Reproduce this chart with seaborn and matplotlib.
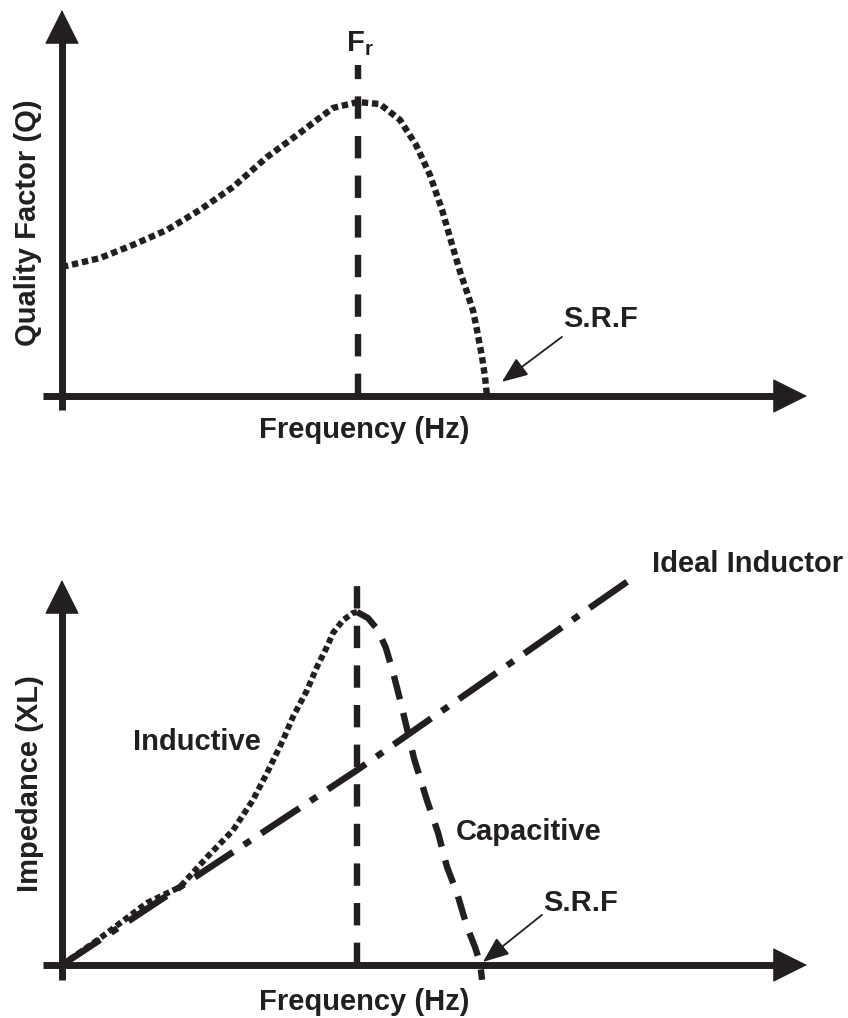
import numpy as np
import pandas as pd
import matplotlib
matplotlib.use("Agg")
import matplotlib.pyplot as plt
import seaborn as sns

# Q vs frequency (frequency normalised to Fr = 1, Q normalised to peak = 1)
q_freq = [0.0, 0.128, 0.240, 0.355, 0.466, 0.578, 0.693, 0.804, 0.861, 0.916, 1.0,
          1.074, 1.142, 1.196, 1.243, 1.284, 1.318, 1.345, 1.368, 1.389, 1.402,
          1.419, 1.429, 1.436]
q_vals = [0.439, 0.469, 0.514, 0.565, 0.633, 0.711, 0.813, 0.895, 0.939, 0.980, 1.0,
          0.993, 0.939, 0.854, 0.752, 0.633, 0.514, 0.422, 0.354, 0.289, 0.224,
          0.133, 0.065, 0.0]

# impedance vs frequency
ind_freq = [0.0, 0.129, 0.288, 0.400, 0.492, 0.580, 0.647, 0.695, 0.749, 0.783,
            0.831, 0.864, 0.898, 0.919, 0.953, 0.986, 1.0]
ind_vals = [0.0, 0.076, 0.176, 0.221, 0.306, 0.382, 0.467, 0.544, 0.637, 0.703,
            0.779, 0.844, 0.901, 0.941, 0.977, 0.997, 1.0]
cap_freq = [1.0, 1.037, 1.071, 1.098, 1.122, 1.146, 1.169, 1.193, 1.237, 1.275,
            1.305, 1.339, 1.373, 1.400, 1.417, 1.424]
cap_vals = [1.0, 0.983, 0.949, 0.898, 0.830, 0.751, 0.671, 0.586, 0.467, 0.374,
            0.278, 0.204, 0.108, 0.051, 0.006, -0.042]
ideal_freq = [0.0, 1.0, 1.949]
ideal_vals = [0.0, 0.552, 1.105]

fr = 1.0
FIG_W, FIG_H = 848, 1018
INK = "#231f20"

sns.set_style("white")
plt.rcParams["font.family"] = ["Liberation Sans", "DejaVu Sans"]
plt.rcParams["font.weight"] = "bold"
plt.rcParams["mathtext.fontset"] = "custom"
plt.rcParams["mathtext.bf"] = "Liberation Sans:bold"
plt.rcParams["mathtext.rm"] = "Liberation Sans:bold"

fig = plt.figure(figsize=(FIG_W / 100, FIG_H / 100), dpi=100)


def px_axes(x0, x1, y_top, y_bot):
    return fig.add_axes([x0 / FIG_W, 1 - y_bot / FIG_H, (x1 - x0) / FIG_W, (y_bot - y_top) / FIG_H])


def draw_axes_arrows(ax, xleft, ybelow, head_frac_x, head_frac_y):
    # shafts
    ax.plot([xleft, 1 - head_frac_x * 0.5], [0, 0], transform=ax.transAxes, color=INK,
            lw=5, solid_capstyle="butt", clip_on=False)
    ax.plot([0, 0], [ybelow, 1 - head_frac_y * 0.5], transform=ax.transAxes, color=INK,
            lw=5, solid_capstyle="butt", clip_on=False)
    # sharp heads
    head = dict(arrowstyle="-|>,head_length=1.0,head_width=0.5", mutation_scale=23,
                lw=0.8, color=INK, shrinkA=0, shrinkB=0)
    ax.annotate("", xy=(1, 0), xytext=(1 - head_frac_x * 1.5, 0), xycoords="axes fraction",
                arrowprops=head)
    ax.annotate("", xy=(0, 1), xytext=(0, 1 - head_frac_y * 1.5), xycoords="axes fraction",
                arrowprops=head)


def style_line(line, dashes, lw):
    line.set_dashes(dashes)
    line.set_linewidth(lw)
    line.set_dash_capstyle("butt")
    line.set_clip_on(False)


FS = 21

# ---------- top panel: quality factor ----------
ax1 = px_axes(62, 807, 10, 396)
ax1.set_xlim(0, 745 / 296)
ax1.set_ylim(0, 386 / 294)
ax1.set_axis_off()

top_df = pd.DataFrame({"freq": q_freq, "Q": q_vals})
sns.lineplot(data=top_df, x="freq", y="Q", ax=ax1, color=INK, sort=False, estimator=None)
style_line(ax1.lines[-1], (1.0, 0.6), 4.6)
sns.lineplot(x=[fr, fr], y=[0, 1.126], ax=ax1, color=INK, sort=False, estimator=None)
style_line(ax1.lines[-1], (3.5, 2.7), 4.6)
draw_axes_arrows(ax1, -0.025, -0.036, 32 / 745, 31 / 386)

ax1.text(fr + 0.007, 1.2, r"$\mathbf{F_r}$", fontsize=FS, ha="center", va="center", color=INK)
ax1.text(1.818, 0.262, "S.R.F", fontsize=FS, ha="center", va="center", color=INK)
ax1.annotate("", xy=(1.486, 0.048), xytext=(1.689, 0.201),
             arrowprops=dict(arrowstyle="-|>,head_length=0.8,head_width=0.32", mutation_scale=20,
                             lw=1.3, color=INK, shrinkA=0, shrinkB=0))

# ---------- bottom panel: impedance ----------
ax2 = px_axes(62, 807, 580, 965)
ax2.set_xlim(0, 745 / 295)
ax2.set_ylim(0, 385 / 353)
ax2.set_axis_off()

sns.lineplot(x=ideal_freq, y=ideal_vals, ax=ax2, color=INK, sort=False, estimator=None)
style_line(ax2.lines[-1], (7.0, 2.0, 1.2, 2.0), 4.7)
sns.lineplot(x=ind_freq, y=ind_vals, ax=ax2, color=INK, sort=False, estimator=None)
style_line(ax2.lines[-1], (1.0, 0.6), 4.3)
sns.lineplot(x=cap_freq, y=cap_vals, ax=ax2, color=INK, sort=False, estimator=None)
style_line(ax2.lines[-1], (3.8, 2.2), 4.6)
sns.lineplot(x=[fr, fr], y=[0, 1.113], ax=ax2, color=INK, sort=False, estimator=None)
style_line(ax2.lines[-1], (3.5, 2.7), 4.6)
draw_axes_arrows(ax2, -0.026, -0.039, 32 / 745, 31 / 385)

ax2.text(2.0, 1.136, "Ideal Inductor", fontsize=FS, ha="left", va="center", color=INK)
ax2.text(0.458, 0.632, "Inductive", fontsize=FS, ha="center", va="center", color=INK)
ax2.text(1.583, 0.377, "Capacitive", fontsize=FS, ha="center", va="center", color=INK)
ax2.text(1.759, 0.176, "S.R.F", fontsize=FS, ha="center", va="center", color=INK)
ax2.annotate("", xy=(1.427, 0.0085), xytext=(1.627, 0.142),
             arrowprops=dict(arrowstyle="-|>,head_length=0.8,head_width=0.32", mutation_scale=20,
                             lw=1.3, color=INK, shrinkA=0, shrinkB=0))

# axis titles
fig.text(364 / FIG_W, 1 - 430 / FIG_H, "Frequency (Hz)", fontsize=FS, ha="center", va="center", color=INK)
fig.text(28 / FIG_W, 1 - 223 / FIG_H, "Quality Factor (Q)", fontsize=FS, rotation=90,
         ha="center", va="center", color=INK)
fig.text(364 / FIG_W, 1 - 1002 / FIG_H, "Frequency (Hz)", fontsize=FS, ha="center", va="center", color=INK)
fig.text(30 / FIG_W, 1 - 784 / FIG_H, "Impedance (XL)", fontsize=FS, rotation=90,
         ha="center", va="center", color=INK)

fig.savefig("out.png", dpi=100)
